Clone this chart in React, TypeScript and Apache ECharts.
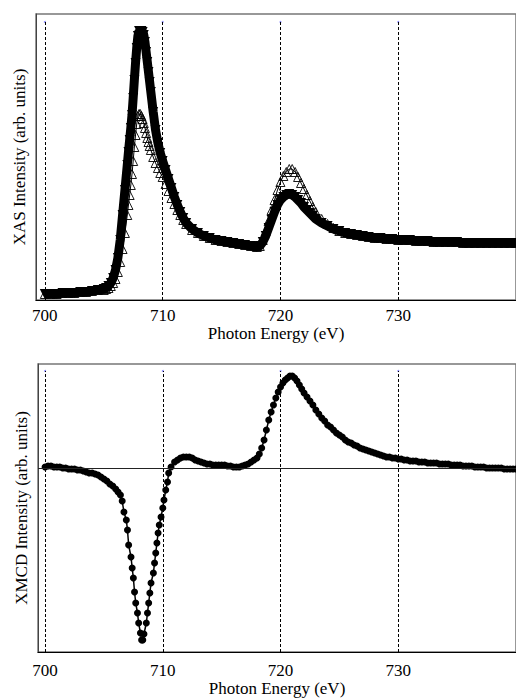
import React, { useEffect, useRef } from "react";
import * as echarts from "echarts";

// ---------- data ----------
const tickLabels = [700, 710, 720, 730];

const xasEnergy = [
  700, 700.5, 701, 701.5, 702, 702.5, 703, 703.5, 704, 704.5, 705,
  705.2, 705.4, 705.6, 705.8, 706.0, 706.2, 706.4, 706.6, 706.8, 707.0,
  707.1, 707.2, 707.3, 707.4, 707.5, 707.6, 707.7, 707.8, 707.9, 708.0,
  708.1, 708.2, 708.3, 708.4, 708.5, 708.6, 708.7, 708.8, 708.9, 709.0,
  709.2, 709.4, 709.6, 709.8, 710.0, 710.25, 710.5, 710.75, 711.0, 711.25,
  711.5, 711.75, 712.0, 712.5, 713.0, 713.5, 714.0, 714.5, 715.0, 715.5,
  716.0, 716.5, 717.0, 717.5, 718.0, 718.25, 718.5, 718.75, 719.0, 719.25,
  719.5, 719.75, 720.0, 720.25, 720.5, 720.75, 721.0, 721.25, 721.5, 721.75,
  722.0, 722.25, 722.5, 722.75, 723.0, 723.5, 724.0, 724.5, 725.0, 725.5,
  726.0, 726.5, 727.0, 727.5, 728, 728.5, 729, 729.5, 730, 730.5,
  731, 731.5, 732, 732.5, 733, 733.5, 734, 734.5, 735, 735.5,
  736, 736.5, 737, 737.5, 738, 738.5, 739, 739.5, 740,
];

// filled down-triangles
const xasFilled = [
  0.06, 0.06, 0.06, 0.07, 0.07, 0.07, 0.08, 0.08, 0.09, 0.10, 0.11,
  0.12, 0.14, 0.17, 0.22, 0.30, 0.42, 0.60, 0.85, 1.10, 1.35,
  1.48, 1.60, 1.72, 1.85, 2.02, 2.20, 2.37, 2.52, 2.64, 2.69,
  2.69, 2.69, 2.68, 2.65, 2.58, 2.48, 2.38, 2.28, 2.18, 2.08,
  1.88, 1.70, 1.57, 1.47, 1.39, 1.30, 1.21, 1.12, 1.03, 0.95,
  0.88, 0.82, 0.77, 0.71, 0.67, 0.64, 0.62, 0.60, 0.59, 0.58,
  0.57, 0.56, 0.55, 0.54, 0.53, 0.54, 0.58, 0.64, 0.72, 0.80,
  0.88, 0.95, 1.00, 1.03, 1.05, 1.06, 1.05, 1.03, 1.00, 0.97,
  0.93, 0.90, 0.87, 0.84, 0.81, 0.77, 0.74, 0.71, 0.69, 0.67,
  0.66, 0.65, 0.64, 0.63, 0.62, 0.62, 0.61, 0.61, 0.60, 0.60,
  0.60, 0.59, 0.59, 0.59, 0.58, 0.58, 0.58, 0.58, 0.58, 0.57,
  0.57, 0.57, 0.57, 0.57, 0.57, 0.57, 0.57, 0.57, 0.57,
];

// open up-triangles
const xasOpen = [
  0.06, 0.06, 0.06, 0.07, 0.07, 0.07, 0.08, 0.08, 0.09, 0.10, 0.10,
  0.11, 0.12, 0.14, 0.17, 0.21, 0.28, 0.38, 0.51, 0.67, 0.85,
  0.95, 1.05, 1.15, 1.26, 1.39, 1.53, 1.65, 1.76, 1.84, 1.86,
  1.86, 1.84, 1.81, 1.77, 1.72, 1.67, 1.62, 1.58, 1.54, 1.50,
  1.43, 1.37, 1.32, 1.27, 1.23, 1.16, 1.09, 1.02, 0.96, 0.90,
  0.85, 0.80, 0.76, 0.70, 0.67, 0.64, 0.62, 0.60, 0.59, 0.58,
  0.57, 0.56, 0.55, 0.54, 0.53, 0.54, 0.60, 0.69, 0.79, 0.90,
  1.00, 1.10, 1.18, 1.24, 1.28, 1.31, 1.31, 1.28, 1.23, 1.17,
  1.11, 1.05, 0.99, 0.93, 0.88, 0.81, 0.76, 0.72, 0.69, 0.67,
  0.66, 0.65, 0.64, 0.63, 0.62, 0.62, 0.61, 0.61, 0.60, 0.60,
  0.60, 0.59, 0.59, 0.59, 0.58, 0.58, 0.58, 0.58, 0.58, 0.57,
  0.57, 0.57, 0.57, 0.57, 0.57, 0.57, 0.57, 0.57, 0.57,
];

const xmcdEnergy = [
  700.0, 700.25, 700.5, 700.75, 701.0, 701.25, 701.5, 701.75, 702.0, 702.25,
  702.5, 702.75, 703.0, 703.25, 703.5, 703.75, 704.0, 704.25, 704.5, 704.75,
  705.0, 705.25, 705.5, 705.75, 706.0, 706.2, 706.4, 706.55, 706.7, 706.9,
  707.0, 707.1, 707.3, 707.4, 707.5, 707.6, 707.7, 707.85, 707.95, 708.1,
  708.2, 708.3, 708.4, 708.6, 708.7, 708.8, 708.9, 709.0, 709.2, 709.3,
  709.4, 709.5, 709.6, 709.7, 709.85, 710.0, 710.1, 710.25, 710.4, 710.5,
  710.7, 711.0, 711.25, 711.5, 711.75, 712.0, 712.25, 712.5, 712.75, 713.0,
  713.25, 713.5, 713.75, 714.0, 714.25, 714.5, 714.75, 715.0, 715.25, 715.5,
  715.75, 716.0, 716.25, 716.5, 716.75, 717.0, 717.25, 717.5, 717.75, 718.0,
  718.2, 718.4, 718.6, 718.8, 719.0, 719.2, 719.4, 719.6, 719.8, 720.0,
  720.2, 720.4, 720.6, 720.8, 721.0, 721.2, 721.4, 721.6, 721.8, 722.0,
  722.25, 722.5, 722.75, 723.0, 723.25, 723.5, 723.75, 724.0, 724.25, 724.5,
  724.75, 725.0, 725.25, 725.5, 725.75, 726.0, 726.25, 726.5, 726.75, 727.0,
  727.25, 727.5, 727.75, 728.0, 728.25, 728.5, 728.75, 729.0, 729.25, 729.5,
  729.75, 730.0, 730.25, 730.5, 730.75, 731.0, 731.25, 731.5, 731.75, 732.0,
  732.25, 732.5, 732.75, 733.0, 733.25, 733.5, 733.75, 734.0, 734.25, 734.5,
  734.75, 735.0, 735.25, 735.5, 735.75, 736.0, 736.25, 736.5, 736.75, 737.0,
  737.25, 737.5, 737.75, 738.0, 738.25, 738.5, 738.75, 739.0, 739.25, 739.5,
  739.75, 740.0,
];

const xmcdValues = [
  0.01, 0.02, 0.02, 0.01, 0.01, 0.01, 0.0, 0.0, -0.01, -0.01,
  -0.01, -0.02, -0.02, -0.03, -0.04, -0.05, -0.05, -0.06, -0.07, -0.09,
  -0.11, -0.13, -0.16, -0.18, -0.21, -0.24, -0.27, -0.33, -0.44, -0.52,
  -0.62, -0.77, -0.89, -1.0, -1.1, -1.24, -1.35, -1.45, -1.55, -1.65,
  -1.72, -1.72, -1.66, -1.55, -1.45, -1.35, -1.25, -1.15, -1.05, -0.95,
  -0.85, -0.75, -0.65, -0.57, -0.49, -0.4, -0.32, -0.22, -0.14, -0.05,
  0.01, 0.06, 0.08, 0.10, 0.11, 0.11, 0.11, 0.10, 0.08, 0.07,
  0.06, 0.05, 0.04, 0.04, 0.03, 0.03, 0.03, 0.03, 0.03, 0.02,
  0.02, 0.01, 0.01, 0.01, 0.02, 0.03, 0.04, 0.06, 0.08, 0.10,
  0.14, 0.20, 0.28, 0.38, 0.48, 0.56, 0.63, 0.70, 0.76, 0.81,
  0.85, 0.88, 0.90, 0.92, 0.92, 0.90, 0.87, 0.83, 0.79, 0.75,
  0.71, 0.67, 0.63, 0.58, 0.54, 0.50, 0.47, 0.43, 0.41, 0.38,
  0.35, 0.33, 0.31, 0.28, 0.26, 0.25, 0.23, 0.22, 0.20, 0.19,
  0.18, 0.17, 0.16, 0.15, 0.14, 0.13, 0.12, 0.11, 0.11, 0.10,
  0.10, 0.09, 0.09, 0.08, 0.08, 0.07, 0.07, 0.07, 0.06, 0.06,
  0.06, 0.05, 0.05, 0.05, 0.05, 0.04, 0.04, 0.04, 0.04, 0.03,
  0.03, 0.03, 0.03, 0.02, 0.02, 0.02, 0.02, 0.01, 0.01, 0.01,
  0.01, 0.0, 0.0, 0.0, 0.0, 0.0, 0.0, -0.01, -0.01, -0.01,
  -0.01, -0.01,
];

// axis extents (arbitrary units)
const xasRange = [0, 2.86];
const xmcdRange = [-1.84, 1.04];

const FONT = "Liberation Serif";

export default function App() {
  const ref = useRef<HTMLDivElement>(null);

  useEffect(() => {
    if (!ref.current) return;
    const chart = echarts.init(ref.current, undefined, { renderer: "svg" });

    const zip = (xs: number[], ys: number[]) => xs.map((x, i) => [x, ys[i]]);
    const tickFmt = (v: number) => (tickLabels.includes(Math.round(v * 1000) / 1000) ? String(v) : "");

    const xAxisBase = (gridIndex: number, min: number, margin: number, nameGap: number) => ({
      gridIndex,
      type: "value",
      min,
      max: 740,
      axisLine: { show: true, onZero: false, lineStyle: { color: "#000", width: 1 } },
      axisTick: { show: false },
      splitLine: { show: false },
      axisLabel: {
        formatter: tickFmt,
        fontFamily: FONT,
        fontSize: 17,
        color: "#000",
        margin,
        showMinLabel: false,
        showMaxLabel: false,
      },
      name: "Photon Energy (eV)",
      nameLocation: "middle",
      nameGap,
      nameTextStyle: { fontFamily: FONT, fontSize: 17, color: "#000", fontWeight: "normal" },
    });

    const yAxisBase = (gridIndex: number, range: number[], name: string) => ({
      gridIndex,
      type: "value",
      min: range[0],
      max: range[1],
      axisLine: { show: true, onZero: false, lineStyle: { color: "#444", width: 1 } },
      axisTick: { show: false },
      axisLabel: { show: false },
      splitLine: { show: false },
      name,
      nameLocation: "middle",
      nameRotate: 90,
      nameGap: 8,
      nameTextStyle: { fontFamily: FONT, fontSize: 17, color: "#000", fontWeight: "normal" },
    });

    const dashLines = (range: number[], gap: number) =>
      tickLabels.map((t) => [{ coord: [t, range[0]] }, { coord: [t, range[1] - gap] }]);

    const option: any = {
      animation: false,
      textStyle: { fontFamily: FONT },
      grid: [
        { left: 36, top: 14, width: 481, height: 286, show: true, borderColor: "#777", borderWidth: 1.5 },
        { left: 38, top: 364, width: 479, height: 288, show: true, borderColor: "#777", borderWidth: 1.5 },
      ],
      xAxis: [xAxisBase(0, 699.25, 7, 22), xAxisBase(1, 699.4, 10, 27)],
      yAxis: [
        yAxisBase(0, xasRange, "XAS Intensity (arb. units)"),
        yAxisBase(1, xmcdRange, "XMCD Intensity (arb. units)"),
      ],
      series: [
        {
          type: "line",
          xAxisIndex: 0,
          yAxisIndex: 0,
          data: tickLabels.map((t) => [t, xasRange[0]]),
          showSymbol: false,
          lineStyle: { width: 0, opacity: 0 },
          z: 1,
          silent: true,
          markLine: {
            silent: true,
            symbol: ["none", "none"],
            label: { show: false },
            lineStyle: { type: [3, 2], color: "#000", width: 1 },
            data: dashLines(xasRange, 0.08),
          },
        },
        {
          type: "scatter",
          xAxisIndex: 0,
          yAxisIndex: 0,
          data: tickLabels.map((t) => [t, xasRange[1] - 0.08]),
          symbolSize: 2,
          itemStyle: { color: "#6b6bff" },
          z: 1,
          silent: true,
        },
        {
          type: "line",
          xAxisIndex: 1,
          yAxisIndex: 1,
          data: tickLabels.map((t) => [t, xmcdRange[0]]),
          showSymbol: false,
          lineStyle: { width: 0, opacity: 0 },
          z: 1,
          silent: true,
          markLine: {
            silent: true,
            symbol: ["none", "none"],
            label: { show: false },
            lineStyle: { type: [3, 2], color: "#000", width: 1 },
            data: [
              ...dashLines(xmcdRange, 0.07),
              { yAxis: 0, lineStyle: { type: "solid", color: "#222", width: 1 } },
            ],
          },
        },
        {
          type: "scatter",
          xAxisIndex: 1,
          yAxisIndex: 1,
          data: tickLabels.map((t) => [t, xmcdRange[1] - 0.07]),
          symbolSize: 2,
          itemStyle: { color: "#6b6bff" },
          z: 1,
          silent: true,
        },
        {
          name: "open",
          type: "line",
          xAxisIndex: 0,
          yAxisIndex: 0,
          data: zip(xasEnergy, xasOpen),
          symbol: "triangle",
          symbolSize: 9,
          showSymbol: true,
          showAllSymbol: true,
          itemStyle: { color: "rgba(255,255,255,0)", borderColor: "#000", borderWidth: 0.9 },
          lineStyle: { color: "#000", width: 1 },
          z: 2,
        },
        {
          name: "filled",
          type: "line",
          xAxisIndex: 0,
          yAxisIndex: 0,
          data: zip(xasEnergy, xasFilled),
          symbol: "triangle",
          symbolRotate: 180,
          symbolSize: 10,
          showSymbol: true,
          showAllSymbol: true,
          itemStyle: { color: "#000" },
          lineStyle: { color: "#000", width: 9 },
          z: 3,
        },
        {
          name: "xmcd",
          type: "line",
          xAxisIndex: 1,
          yAxisIndex: 1,
          data: zip(xmcdEnergy, xmcdValues),
          symbol: "circle",
          symbolSize: 7,
          showSymbol: true,
          showAllSymbol: true,
          itemStyle: { color: "#000" },
          lineStyle: { color: "#000", width: 1.5 },
          z: 3,
        },
      ],
    };

    chart.setOption(option);
    return () => chart.dispose();
  }, []);

  return (
    <div
      ref={ref}
      style={{ position: "fixed", left: 0, top: 0, width: 516, height: 698, background: "#fff" }}
    />
  );
}
